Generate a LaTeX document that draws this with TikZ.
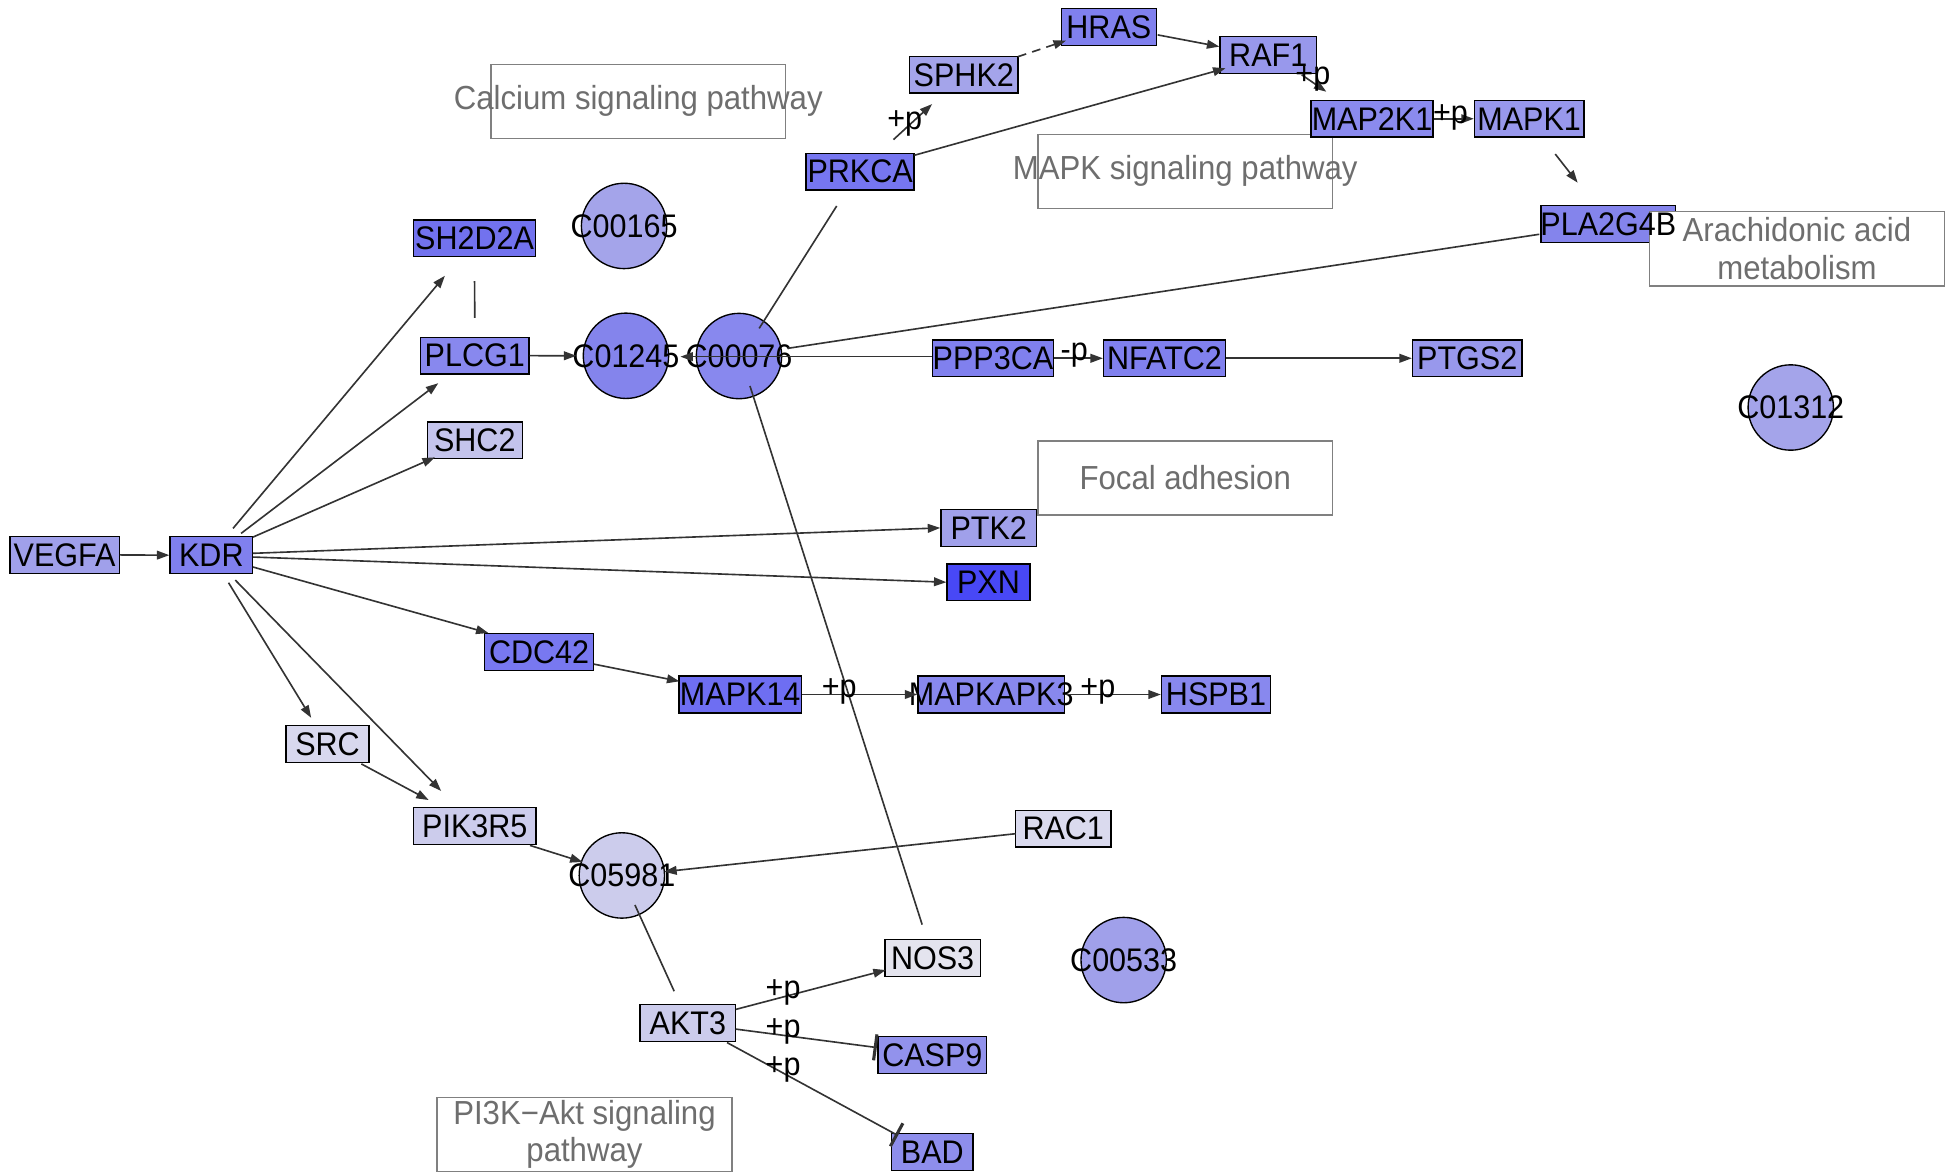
\documentclass[tikz,border=0pt]{standalone}
\usepackage{fontspec}
\setmainfont{Liberation Sans}
\usetikzlibrary{arrows.meta,shapes.geometric}
\newcommand{\zb}[1]{\makebox[0pt][c]{\scalebox{1}[1.07]{#1}}}
\definecolor{edgec}{HTML}{333333}
\definecolor{pwline}{HTML}{808080}
\definecolor{pwtext}{HTML}{6E6E6E}
\definecolor{cA}{HTML}{A0A0EA}
\definecolor{cB}{HTML}{8080EE}
\definecolor{cC}{HTML}{7272EE}
\definecolor{cD}{HTML}{8888EE}
\definecolor{cE}{HTML}{C4C4EC}
\definecolor{cF}{HTML}{4848F6}
\definecolor{cG}{HTML}{7878F0}
\definecolor{cH}{HTML}{6E6EF2}
\definecolor{cI}{HTML}{D8D8EE}
\definecolor{cJ}{HTML}{CCCCEC}
\definecolor{cK}{HTML}{DADAEE}
\definecolor{cL}{HTML}{E4E4EE}
\definecolor{cM}{HTML}{9292EC}
\definecolor{cN}{HTML}{8E8EEC}
\definecolor{cO}{HTML}{7676F0}
\definecolor{cP}{HTML}{9898EC}
\definecolor{cQ}{HTML}{8A8AEE}
\definecolor{cR}{HTML}{8484EC}
\definecolor{cS}{HTML}{A4A4EA}
\tikzset{
  gene/.style={draw=black, line width=1.1pt, rectangle, inner sep=0pt, minimum height=29.5pt, font=\fontsize{24.5}{29}\selectfont},
  genetext/.style={inner sep=0pt, font=\fontsize{24.5}{29}\selectfont},
  cpd/.style={draw=black, line width=1.1pt, circle, inner sep=0pt, minimum size=68.5pt, font=\fontsize{24.5}{29}\selectfont},
  pw/.style={draw=pwline, fill=white, line width=1.1pt, rectangle, inner sep=0pt, minimum width=236.5pt, minimum height=59.5pt, text=pwtext, align=center, font=\fontsize{25}{30}\selectfont},
  edge/.style={draw=edgec, line width=1.3pt},
  arr/.style={edge, -{Triangle[length=10pt,width=7pt]}},
  tee/.style={edge, -{Bar[width=21pt,line width=2.5pt]}},
  lab/.style={inner sep=0pt, font=\fontsize{24.5}{29}\selectfont}
}
\begin{document}
\begin{tikzpicture}[x=1pt,y=-1pt]
\useasboundingbox[fill=white] (0,0) rectangle (1568,943);
% pathway boxes
\node[pw] (pwCa) at (512.2,81.3) {\zb{Calcium signaling pathway}};
\node[pw] (pwMAPK) at (951.1,137.5) {\zb{MAPK signaling pathway}};
\node[pw] (pwFA) at (951.1,383.5) {\zb{Focal adhesion}};
\node[pw] (pwPI3K) at (469,910.5) {\zb{PI3K−Akt signaling}\\\zb{pathway}};
% genes
\node[gene, fill=cA, minimum width=87.8pt] (VEGFA) at (51.8,445.3) {\zb{VEGFA}};
\node[gene, fill=cB, minimum width=66.3pt] (KDR) at (169.6,445.5) {\zb{KDR}};
\node[gene, fill=cC, minimum width=98.2pt] (SH2D2A) at (380.8,191.3) {\zb{SH2D2A}};
\node[gene, fill=cD, minimum width=87pt] (PLCG1) at (381,285.4) {\zb{PLCG1}};
\node[gene, fill=cE, minimum width=76.2pt] (SHC2) at (381,353.4) {\zb{SHC2}};
\node[gene, fill=cA, minimum width=76.7pt] (PTK2) at (793.4,423.6) {\zb{PTK2}};
\node[gene, fill=cF, minimum width=66.4pt] (PXN) at (793.2,467.2) {\zb{PXN}};
\node[gene, fill=cG, minimum width=87.8pt] (CDC42) at (432.6,523.2) {\zb{CDC42}};
\node[gene, fill=cH, minimum width=98pt] (MAPK14) at (594,557.3) {\zb{MAPK14}};
\node[gene, fill=cD, minimum width=117.6pt] (MAPKAPK3) at (795.4,557.3) {\zb{MAPKAPK3}};
\node[gene, fill=cD, minimum width=87.5pt] (HSPB1) at (975.8,557.3) {\zb{HSPB1}};
\node[gene, fill=cI, minimum width=66.5pt] (SRC) at (262.8,597) {\zb{SRC}};
\node[gene, fill=cJ, minimum width=98pt] (PIK3R5) at (381,662.8) {\zb{PIK3R5}};
\node[gene, fill=cK, minimum width=76.5pt] (RAC1) at (853.2,665) {\zb{RAC1}};
\node[gene, fill=cL, minimum width=76.7pt] (NOS3) at (748.4,768.7) {\zb{NOS3}};
\node[gene, fill=cJ, minimum width=76.8pt] (AKT3) at (552,821) {\zb{AKT3}};
\node[gene, fill=cM, minimum width=87.1pt] (CASP9) at (748.2,846.5) {\zb{CASP9}};
\node[gene, fill=cN, minimum width=65.4pt] (BAD) at (748.1,924.4) {\zb{BAD}};
\node[gene, fill=cO, minimum width=86.7pt] (PRKCA) at (690.2,137.8) {\zb{PRKCA}};
\node[gene, fill=cS, minimum width=86.8pt] (SPHK2) at (773.4,60) {\zb{SPHK2}};
\node[gene, fill=cB, minimum width=76.5pt] (HRAS) at (889.8,21.8) {\zb{HRAS}};
\node[gene, fill=cP, minimum width=77.4pt] (RAF1) at (1017.7,44) {\zb{RAF1}};
\node[gene, fill=cQ, minimum width=98pt] (MAP2K1) at (1101,95.3) {\zb{MAP2K1}};
\node[gene, fill=cP, minimum width=87.8pt] (MAPK1) at (1227.1,95.3) {\zb{MAPK1}};
\node[gene, fill=cR, minimum width=108pt] (PLA2G4B) at (1290.6,179.6) {};
\node[gene, fill=cB, minimum width=97.5pt] (PPP3CA) at (796.8,287.5) {\zb{PPP3CA}};
\node[gene, fill=cB, minimum width=97.8pt] (NFATC2) at (934.5,287.5) {\zb{NFATC2}};
\node[gene, fill=cP, minimum width=87.8pt] (PTGS2) at (1177.4,287.5) {\zb{PTGS2}};
% compounds
\node[cpd, fill=cS] (C00165) at (500.8,181.3) {\zb{C00165}};
\node[cpd, fill=cR] (C01245) at (502.3,285.5) {\zb{C01245}};
\node[cpd, fill=cD] (C00076) at (593,285.7) {\zb{C00076}};
\node[cpd, fill=cS] (C01312) at (1437,327) {\zb{C01312}};
\node[cpd, fill=cJ] (C05981) at (499,702.5) {\zb{C05981}};
\node[cpd, fill=cA] (C00533) at (901.7,770.4) {\zb{C00533}};
% box over PLA2G4B
\node[pw] (pwAA) at (1442,199.6) {\zb{Arachidonic acid}\\\zb{metabolism}};
\node[genetext] (PLA2G4Btxt) at (PLA2G4B.center) {\zb{PLA2G4B}};
% edges
\draw[arr] (VEGFA.east) -- (KDR.west);
\draw[arr] ([shift={(17.4,-21.5)}]KDR.center) -- ([shift={(-23.8,30)}]SH2D2A.center);
\draw[arr] ([shift={(23.9,-17.5)}]KDR.center) -- ([shift={(-29.3,22.1)}]PLCG1.center);
\draw[arr] ([shift={(33.4,-14.5)}]KDR.center) -- ([shift={(-32,13.6)}]SHC2.center);
\draw[arr] ([shift={(33.4,-1.5)}]KDR.center) -- (PTK2.west);
\draw[arr] ([shift={(33.4,1.5)}]KDR.center) -- (PXN.west);
\draw[arr] ([shift={(33.4,9.5)}]KDR.center) -- ([shift={(-40.6,-15.2)}]CDC42.center);
\draw[arr] ([shift={(13.8,22.1)}]KDR.center) -- ([shift={(-13.1,-21)}]SRC.center);
\draw[arr] ([shift={(19.2,20)}]KDR.center) -- ([shift={(-27,-28.1)}]PIK3R5.center);
\draw[arr] ([shift={(27.2,16)}]SRC.center) -- ([shift={(-37,-20.8)}]PIK3R5.center);
\draw[arr] ([shift={(44.3,15.6)}]PIK3R5.center) -- ([shift={(-31.5,-10.8)}]C05981.center);
\draw[edge] ([shift={(0,34.2)}]SH2D2A.center) -- ([shift={(0,-30.4)}]PLCG1.center);
\draw[arr] (PLCG1.east) -- ([shift={(-39.8,0)}]C01245.center);
\draw[arr] ([shift={(0,-1.3)}]PPP3CA.west) -- ([shift={(43.7,0.7)}]C01245.center);
\draw[arr] (PPP3CA.east) -- (NFATC2.west);
\draw[arr] (NFATC2.east) -- (PTGS2.west);
\draw[edge] ([shift={(39.3,-6.2)}]C00076.center) -- ([shift={(-55.4,8.4)}]PLA2G4B.center);
\draw[edge] ([shift={(16.2,-22.2)}]C00076.center) -- ([shift={(-18.8,27.5)}]PRKCA.center);
\draw[arr] ([shift={(26.8,-25.8)}]PRKCA.center) -- ([shift={(-25.4,23.5)}]SPHK2.center);
\draw[arr] ([shift={(43.5,-13.2)}]PRKCA.center) -- ([shift={(-34.3,10.8)}]RAF1.center);
\draw[arr, dash pattern=on 7pt off 5pt] ([shift={(43.4,-14.5)}]SPHK2.center) -- ([shift={(-34.4,10.8)}]HRAS.center);
\draw[arr] ([shift={(39.2,6.2)}]HRAS.center) -- ([shift={(-39.2,-6.6)}]RAF1.center);
\draw[arr] ([shift={(26.8,16)}]RAF1.center) -- ([shift={(-36.7,-21.7)}]MAP2K1.center);
\draw[arr] (MAP2K1.east) -- (MAPK1.west);
\draw[arr] ([shift={(20.9,28.3)}]MAPK1.center) -- ([shift={(-24.6,-33)}]PLA2G4B.center);
\draw[edge] ([shift={(8.8,24)}]C00076.center) -- ([shift={(-8.4,-26.7)}]NOS3.center);
\draw[arr] ([shift={(43.9,9.7)}]CDC42.center) -- ([shift={(-48.8,-10.6)}]MAPK14.center);
\draw[arr] (MAPK14.east) -- (MAPKAPK3.west);
\draw[arr] (MAPKAPK3.east) -- (HSPB1.west);
\draw[arr] ([shift={(-38.2,4)}]RAC1.center) -- ([shift={(34,-3)}]C05981.center);
\draw[edge] ([shift={(10.5,23.7)}]C05981.center) -- ([shift={(-11,-25.6)}]AKT3.center);
\draw[arr] ([shift={(38.4,-11)}]AKT3.center) -- ([shift={(-37.6,9.7)}]NOS3.center);
\draw[tee] ([shift={(38.4,4.8)}]AKT3.center) -- ([shift={(-44.6,-5.9)}]CASP9.center);
\draw[tee] ([shift={(31.4,15.6)}]AKT3.center) -- ([shift={(-27.5,-13.2)}]BAD.center);
% edge labels
\node[lab] (lbPS) at (726,99) {\zb{+p}};
\node[lab] (lbRM) at (1053.5,63) {\zb{+p}};
\node[lab] (lbMM) at (1164,94) {\zb{+p}};
\node[lab] (lbPN) at (862,285) {\zb{-p}};
\node[lab] (lbM14) at (673.5,555) {\zb{+p}};
\node[lab] (lbMK3) at (881,555) {\zb{+p}};
\node[lab] (lbAN) at (628.4,796) {\zb{+p}};
\node[lab] (lbAC) at (628.4,828) {\zb{+p}};
\node[lab] (lbAB) at (628.4,858) {\zb{+p}};
\end{tikzpicture}
\end{document}
